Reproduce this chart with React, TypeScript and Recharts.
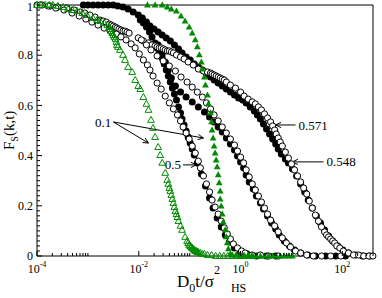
import { ScatterChart, Scatter, XAxis, YAxis, ReferenceLine } from "recharts";

const FONT = '"Liberation Serif", "Times New Roman", serif';
const GREEN = "#008b00";

// points are [log10(D0 t / sigma^2), Fs(k,t)]
const GREEN_OPEN: [number, number][] = [
  [-4.0, 1], [-3.92, 1], [-3.84, 1], [-3.76, 1], [-3.69, 1], [-3.59, 0.996], [-3.49, 0.992], [-3.39, 0.984],
  [-3.31, 0.98], [-3.21, 0.976], [-3.11, 0.968], [-3.02, 0.96], [-2.9, 0.948], [-2.82, 0.94], [-2.76, 0.936],
  [-2.68, 0.928], [-2.62, 0.92], [-2.58, 0.912], [-2.56, 0.904], [-2.54, 0.896], [-2.52, 0.888], [-2.5, 0.88],
  [-2.48, 0.873], [-2.46, 0.865], [-2.44, 0.853], [-2.43, 0.841], [-2.41, 0.833], [-2.37, 0.821], [-2.31, 0.801],
  [-2.27, 0.781], [-2.21, 0.753], [-2.13, 0.733], [-2.07, 0.701], [-2.01, 0.677], [-1.97, 0.665], [-1.91, 0.633],
  [-1.85, 0.606], [-1.81, 0.582], [-1.76, 0.542], [-1.72, 0.51], [-1.68, 0.474], [-1.62, 0.434], [-1.58, 0.402],
  [-1.54, 0.371], [-1.48, 0.331], [-1.44, 0.303], [-1.42, 0.287], [-1.4, 0.271], [-1.38, 0.259], [-1.36, 0.243],
  [-1.34, 0.227], [-1.32, 0.211], [-1.3, 0.195], [-1.28, 0.179], [-1.26, 0.167], [-1.24, 0.155], [-1.22, 0.139],
  [-1.18, 0.12], [-1.15, 0.104], [-1.09, 0.076], [-1.05, 0.06], [-1.03, 0.052], [-1.01, 0.044], [-0.99, 0.04],
  [-0.97, 0.036], [-0.95, 0.032], [-0.93, 0.028], [-0.91, 0.024], [-0.89, 0.02], [-0.87, 0.02], [-0.85, 0.016],
  [-0.83, 0.016], [-0.79, 0.012], [-0.75, 0.008], [-0.71, 0.008], [-0.65, 0.004], [-0.57, 0.004], [-0.49, 0],
  [-0.41, 0], [-0.33, 0], [-0.25, 0], [-0.17, 0], [-0.09, 0], [-0.01, 0], [0.07, 0], [0.15, 0], [0.23, 0],
];

const GREEN_FULL: [number, number][] = [
  [-1.83, 1], [-1.68, 1], [-1.54, 1], [-1.44, 0.992], [-1.36, 0.984], [-1.26, 0.976], [-1.17, 0.956], [-1.09, 0.936],
  [-1.01, 0.912], [-0.95, 0.888], [-0.89, 0.861], [-0.85, 0.833], [-0.81, 0.801], [-0.77, 0.773], [-0.75, 0.745],
  [-0.71, 0.713], [-0.69, 0.681], [-0.65, 0.641], [-0.63, 0.606], [-0.59, 0.57], [-0.57, 0.534], [-0.56, 0.502],
  [-0.54, 0.47], [-0.52, 0.438], [-0.5, 0.41], [-0.48, 0.382], [-0.46, 0.355], [-0.44, 0.323], [-0.42, 0.291],
  [-0.4, 0.259], [-0.4, 0.227], [-0.38, 0.199], [-0.36, 0.167], [-0.34, 0.135], [-0.3, 0.104], [-0.28, 0.076],
  [-0.26, 0.052], [-0.24, 0.028], [-0.2, 0.008], [-0.16, 0.004], [-0.08, 0.004], [0, 0], [0.07, 0], [0.15, 0],
  [0.23, 0], [0.31, 0], [0.39, 0], [0.47, 0], [0.55, 0], [0.63, 0], [0.7, 0], [0.78, 0], [0.86, 0], [0.94, 0], [1.02, 0],
];

const PHI_571: [number, number][] = [
  [-4.0, 1], [-3.9, 1], [-3.74, 0.996], [-3.59, 0.992], [-3.41, 0.988], [-3.27, 0.98], [-3.15, 0.972], [-3.06, 0.968],
  [-2.96, 0.96], [-2.86, 0.952], [-2.76, 0.94], [-2.7, 0.936], [-2.64, 0.932], [-2.58, 0.924], [-2.54, 0.92],
  [-2.5, 0.916], [-2.46, 0.912], [-2.43, 0.908], [-2.39, 0.904], [-2.35, 0.9], [-2.31, 0.896], [-2.27, 0.896],
  [-2.23, 0.892], [-2.19, 0.888], [-2.01, 0.869], [-1.91, 0.857], [-1.81, 0.849], [-1.74, 0.841], [-1.68, 0.837],
  [-1.64, 0.833], [-1.6, 0.829], [-1.56, 0.829], [-1.52, 0.825], [-1.48, 0.821], [-1.44, 0.817], [-1.4, 0.817],
  [-1.36, 0.813], [-1.32, 0.809], [-1.26, 0.801], [-1.18, 0.793], [-1.11, 0.785], [-1.03, 0.773], [-0.93, 0.761],
  [-0.83, 0.745], [-0.73, 0.737], [-0.65, 0.733], [-0.59, 0.729], [-0.56, 0.725], [-0.52, 0.721], [-0.48, 0.717],
  [-0.44, 0.713], [-0.4, 0.709], [-0.36, 0.705], [-0.32, 0.701], [-0.28, 0.693], [-0.2, 0.681], [-0.1, 0.669],
  [0, 0.653], [0.07, 0.637], [0.15, 0.625], [0.23, 0.614], [0.29, 0.606], [0.35, 0.594], [0.41, 0.582],
  [0.47, 0.566], [0.53, 0.55], [0.59, 0.534], [0.63, 0.518], [0.67, 0.502], [0.7, 0.486], [0.74, 0.47],
  [0.78, 0.454], [0.82, 0.438], [0.88, 0.414], [0.94, 0.39], [1.0, 0.367], [1.06, 0.343], [1.12, 0.319],
  [1.18, 0.295], [1.24, 0.271], [1.3, 0.247], [1.35, 0.219], [1.41, 0.191], [1.47, 0.163], [1.53, 0.139],
  [1.59, 0.116], [1.65, 0.096], [1.69, 0.084], [1.73, 0.076], [1.77, 0.068], [1.81, 0.06], [1.85, 0.052],
  [1.89, 0.04], [1.95, 0.032], [2.02, 0.02], [2.12, 0.012], [2.22, 0.004], [2.32, 0.004], [2.42, 0], [2.52, 0], [2.6, 0],
];

const PHI_548: [number, number][] = [
  [-3.09, 1], [-3.0, 1], [-2.9, 1], [-2.8, 1], [-2.7, 1], [-2.6, 1], [-2.5, 1], [-2.41, 0.996], [-2.31, 0.992],
  [-2.21, 0.984], [-2.11, 0.972], [-2.01, 0.96], [-1.93, 0.948], [-1.85, 0.932], [-1.78, 0.916], [-1.7, 0.904],
  [-1.62, 0.892], [-1.54, 0.88], [-1.46, 0.869], [-1.38, 0.857], [-1.3, 0.841], [-1.22, 0.825], [-1.15, 0.809],
  [-1.07, 0.793], [-0.99, 0.781], [-0.91, 0.765], [-0.83, 0.753], [-0.75, 0.741], [-0.67, 0.725], [-0.59, 0.713],
  [-0.52, 0.701], [-0.44, 0.689], [-0.36, 0.677], [-0.28, 0.665], [-0.2, 0.653], [-0.12, 0.641], [-0.04, 0.629],
  [0.04, 0.622], [0.11, 0.61], [0.19, 0.594], [0.27, 0.578], [0.33, 0.562], [0.39, 0.546], [0.45, 0.526],
  [0.51, 0.506], [0.57, 0.486], [0.63, 0.466], [0.69, 0.446], [0.74, 0.426], [0.8, 0.406], [0.88, 0.386],
  [0.94, 0.371], [1.02, 0.347], [1.1, 0.319], [1.18, 0.287], [1.26, 0.255], [1.33, 0.223], [1.41, 0.191],
  [1.49, 0.159], [1.57, 0.131], [1.65, 0.104], [1.73, 0.08], [1.81, 0.06], [1.91, 0.04], [2.01, 0.024],
  [2.12, 0.012], [2.26, 0.004], [2.4, 0], [2.54, 0],
];

const PHI_05_FULL: [number, number][] = [
  [-1.97, 0.94], [-1.91, 0.928], [-1.85, 0.912], [-1.79, 0.892], [-1.74, 0.873], [-1.68, 0.849], [-1.64, 0.829],
  [-1.6, 0.809], [-1.54, 0.789], [-1.5, 0.765], [-1.46, 0.741], [-1.42, 0.717], [-1.38, 0.693], [-1.34, 0.669],
  [-1.3, 0.645], [-1.26, 0.622], [-1.22, 0.594], [-1.18, 0.57], [-1.15, 0.546], [-1.11, 0.522], [-1.07, 0.498],
  [-1.03, 0.474], [-0.99, 0.45], [-0.95, 0.426], [-0.91, 0.402], [-0.85, 0.371], [-0.77, 0.327], [-0.69, 0.279],
  [-0.61, 0.231], [-0.54, 0.191], [-0.46, 0.151], [-0.38, 0.116], [-0.3, 0.084], [-0.22, 0.056], [-0.12, 0.032],
  [0, 0.016], [0.13, 0.008], [0.31, 0], [0.51, 0], [0.69, 0],
];

const PHI_01_OPEN: [number, number][] = [
  [-3.94, 1], [-3.78, 0.996], [-3.63, 0.988], [-3.47, 0.98], [-3.31, 0.968], [-3.17, 0.956], [-3.04, 0.944],
  [-2.92, 0.932], [-2.8, 0.92], [-2.68, 0.908], [-2.56, 0.896], [-2.44, 0.884], [-2.35, 0.873], [-2.25, 0.861],
  [-2.15, 0.845], [-2.07, 0.829], [-1.99, 0.805], [-1.91, 0.781], [-1.83, 0.761], [-1.78, 0.741], [-1.72, 0.717],
  [-1.64, 0.689], [-1.56, 0.665], [-1.48, 0.637], [-1.4, 0.61], [-1.32, 0.586], [-1.24, 0.562], [-1.18, 0.538],
  [-1.13, 0.514], [-1.07, 0.49], [-1.01, 0.466], [-0.95, 0.438], [-0.89, 0.41], [-0.83, 0.378], [-0.79, 0.351],
  [-0.73, 0.319], [-0.67, 0.287], [-0.61, 0.255], [-0.56, 0.223], [-0.5, 0.195], [-0.44, 0.167], [-0.38, 0.139],
  [-0.32, 0.112], [-0.26, 0.088], [-0.2, 0.068], [-0.14, 0.048], [-0.06, 0.032], [0.02, 0.02], [0.09, 0.012],
  [0.23, 0.004], [0.39, 0.004], [0.55, 0], [0.74, 0],
];

const MID_OPEN: [number, number][] = [
  [-1.95, 0.861], [-1.85, 0.841], [-1.76, 0.821], [-1.64, 0.797], [-1.52, 0.777], [-1.4, 0.757], [-1.28, 0.737],
  [-1.17, 0.713], [-1.05, 0.693], [-0.95, 0.673], [-0.85, 0.653], [-0.75, 0.633], [-0.67, 0.61], [-0.59, 0.586],
  [-0.52, 0.562], [-0.44, 0.538], [-0.36, 0.514], [-0.28, 0.49], [-0.2, 0.466], [-0.12, 0.442], [-0.06, 0.418],
  [0, 0.394], [0.06, 0.371], [0.11, 0.343], [0.17, 0.315], [0.23, 0.287], [0.29, 0.263], [0.35, 0.239],
  [0.41, 0.215], [0.47, 0.191], [0.53, 0.167], [0.59, 0.143], [0.67, 0.12], [0.74, 0.096], [0.82, 0.072],
  [0.9, 0.052], [0.98, 0.036], [1.08, 0.02], [1.18, 0.012], [1.3, 0.004], [1.43, 0], [1.59, 0], [1.77, 0], [1.97, 0],
];

const MID_FULL: [number, number][] = [
  [-1.62, 0.841], [-1.54, 0.805], [-1.48, 0.773], [-1.42, 0.741], [-1.36, 0.709], [-1.28, 0.677], [-1.18, 0.653],
  [-1.07, 0.633], [-0.95, 0.614], [-0.83, 0.594], [-0.71, 0.574], [-0.61, 0.554], [-0.52, 0.534], [-0.44, 0.514],
  [-0.36, 0.494], [-0.28, 0.47], [-0.2, 0.446], [-0.12, 0.422], [-0.06, 0.398], [0, 0.375], [0.06, 0.351],
  [0.11, 0.323], [0.17, 0.295], [0.25, 0.267], [0.31, 0.239], [0.39, 0.211], [0.45, 0.187], [0.53, 0.159],
  [0.61, 0.131], [0.69, 0.108], [0.76, 0.084], [0.86, 0.06], [0.96, 0.04], [1.06, 0.024], [1.18, 0.012],
  [1.32, 0.004], [1.47, 0], [1.67, 0], [1.87, 0], [2.06, 0],
];

// arrows: [log10 t, Fs] start and end, label at the start
const ARROWS: { from: [number, number]; to: [number, number]; text?: string; side?: "left" | "right" }[] = [
  { from: [-2.5, 0.534], to: [-1.81, 0.45], text: "0.1", side: "left" },
  { from: [-2.5, 0.534], to: [-0.73, 0.47] },
  { from: [-1.13, 0.363], to: [-0.87, 0.363], text: "0.5", side: "left" },
  { from: [1.08, 0.522], to: [0.69, 0.522], text: "0.571", side: "right" },
  { from: [1.63, 0.375], to: [1.02, 0.375], text: "0.548", side: "right" },
];

const X_TICKS = [
  1e-4, 2e-4, 3e-4, 4e-4, 5e-4, 6e-4, 7e-4, 8e-4, 9e-4, 1e-3,
  1e-2, 2e-2, 3e-2, 4e-2, 5e-2, 6e-2, 7e-2, 8e-2, 9e-2, 1e-1,
  1, 2, 3, 4, 5, 6, 7, 8, 9, 10,
  100, 200, 300, 400,
];
const Y_TICKS = Array.from({ length: 51 }, (_, i) => i / 50);

const pts = (s: [number, number][]) => s.map(([lt, f]) => ({ t: 10 ** lt, F: f }));

const isMajorX = (v: number) => {
  const e = Math.log10(v);
  return Math.abs(e - Math.round(e)) < 1e-6 && Math.round(e) % 2 === 0;
};
const isMajorY = (v: number) => Math.abs(v * 5 - Math.round(v * 5)) < 1e-6;

function XTick(props: any) {
  const { x, y, payload, top } = props;
  const v = payload.value;
  const major = isMajorX(v);
  const len = major ? 5 : 3;
  const dir = top ? 1 : -1;
  return (
    <g>
      <line x1={x} x2={x} y1={y} y2={y + dir * len} stroke="#000" strokeWidth={1} />
      {!top && major && (
        <text x={x} y={y + 17} textAnchor="middle" fontFamily={FONT} fontSize={12} fill="#000">
          10<tspan fontSize={8} dy={-6}>{String(Math.round(Math.log10(v)))}</tspan>
        </text>
      )}
    </g>
  );
}

function YTick(props: any) {
  const { x, y, payload, right } = props;
  const v = payload.value;
  const major = isMajorY(v);
  const len = major ? 5 : 3;
  const dir = right ? -1 : 1;
  return (
    <g>
      <line x1={x} x2={x + dir * len} y1={y} y2={y} stroke="#000" strokeWidth={1} />
      {!right && major && (
        <text
          x={x - 4}
          y={v === 1 ? y + 1.5 : y}
          dy="0.35em"
          textAnchor="end"
          fontFamily={FONT}
          fontSize={12}
          fill="#000"
        >
          {String(Number(v.toFixed(1)))}
        </text>
      )}
    </g>
  );
}

function Arrow(props: any) {
  const { x1, y1, x2, y2, text, side } = props;
  const ang = Math.atan2(y2 - y1, x2 - x1);
  const h = 6;
  const w = 0.45;
  const ax = x2 - h * Math.cos(ang - w);
  const ay = y2 - h * Math.sin(ang - w);
  const bx = x2 - h * Math.cos(ang + w);
  const by = y2 - h * Math.sin(ang + w);
  return (
    <g>
      <line x1={x1} y1={y1} x2={x2} y2={y2} stroke="#000" strokeWidth={1} />
      <polyline points={`${ax},${ay} ${x2},${y2} ${bx},${by}`} fill="none" stroke="#000" strokeWidth={1} />
      {text && (
        <text
          x={side === "left" ? x1 - 2 : x1 + 3}
          y={y1}
          dy="0.35em"
          textAnchor={side === "left" ? "end" : "start"}
          fontFamily={FONT}
          fontSize={13}
          fill="#000"
        >
          {text}
        </text>
      )}
    </g>
  );
}

const OpenCircle = (p: any) => <circle cx={p.cx} cy={p.cy} r={3.1} fill="#fff" stroke="#000" strokeWidth={1} />;
const FullCircle = (p: any) => <circle cx={p.cx} cy={p.cy} r={3.5} fill="#000" />;
const triPts = (cx: number, cy: number) => `${cx},${cy - 3.6} ${cx + 3.4},${cy + 2.4} ${cx - 3.4},${cy + 2.4}`;
const OpenTri = (p: any) => <polygon points={triPts(p.cx, p.cy)} fill="none" stroke={GREEN} strokeWidth={1} />;
const FullTri = (p: any) => <polygon points={triPts(p.cx, p.cy)} fill={GREEN} />;

const X_DOMAIN = [1e-4, 400];

export default function App() {
  return (
    <div style={{ position: "absolute", left: 0, top: 0, width: 382, height: 298, background: "#fff" }}>
      <ScatterChart width={382} height={298} margin={{ top: 4, right: 8, bottom: 41, left: 36 }}>
        <XAxis
          type="number"
          dataKey="t"
          scale="log"
          domain={X_DOMAIN}
          ticks={X_TICKS}
          interval={0}
          height={1}
          tickLine={false}
          tickSize={0}
          tickMargin={0}
          axisLine={{ stroke: "#000" }}
          tick={(p: any) => <XTick {...p} />}
        />
        <XAxis
          xAxisId="top"
          orientation="top"
          type="number"
          scale="log"
          domain={X_DOMAIN}
          ticks={X_TICKS}
          interval={0}
          height={1}
          tickLine={false}
          tickSize={0}
          tickMargin={0}
          axisLine={{ stroke: "#000" }}
          tick={(p: any) => <XTick {...p} top />}
        />
        <YAxis
          type="number"
          dataKey="F"
          domain={[0, 1]}
          ticks={Y_TICKS}
          interval={0}
          width={1}
          tickLine={false}
          tickSize={0}
          tickMargin={0}
          axisLine={{ stroke: "#000" }}
          tick={(p: any) => <YTick {...p} />}
        />
        <YAxis
          yAxisId="right"
          orientation="right"
          type="number"
          domain={[0, 1]}
          ticks={Y_TICKS}
          interval={0}
          width={1}
          tickLine={false}
          tickSize={0}
          tickMargin={0}
          axisLine={{ stroke: "#000" }}
          tick={(p: any) => <YTick {...p} right />}
        />
        <Scatter data={pts(PHI_548)} shape={FullCircle} isAnimationActive={false} />
        <Scatter data={pts(PHI_05_FULL)} shape={FullCircle} isAnimationActive={false} />
        <Scatter data={pts(MID_FULL)} shape={FullCircle} isAnimationActive={false} />
        <Scatter data={pts(PHI_571)} shape={OpenCircle} isAnimationActive={false} />
        <Scatter data={pts(PHI_01_OPEN)} shape={OpenCircle} isAnimationActive={false} />
        <Scatter data={pts(MID_OPEN)} shape={OpenCircle} isAnimationActive={false} />
        <Scatter data={pts(GREEN_OPEN)} shape={OpenTri} isAnimationActive={false} />
        <Scatter data={pts(GREEN_FULL)} shape={FullTri} isAnimationActive={false} />
        {ARROWS.map((a, i) => (
          <ReferenceLine
            key={i}
            segment={[
              { x: 10 ** a.from[0], y: a.from[1] },
              { x: 10 ** a.to[0], y: a.to[1] },
            ]}
            shape={(p: any) => <Arrow {...p} text={a.text} side={a.side} />}
          />
        ))}
      </ScatterChart>
      <svg width={382} height={298} style={{ position: "absolute", left: 0, top: 0, pointerEvents: "none" }}>
        <text x={177} y={287} fontFamily={FONT} fontSize={17} fill="#000">
          D<tspan fontSize={12} dy={5}>0</tspan>
          <tspan dy={-5}>t/σ</tspan>
          <tspan fontSize={12} dy={-13}>2</tspan>
          <tspan fontSize={12} dx={11} dy={18}>HS</tspan>
        </text>
        <text x={14} y={150} transform="rotate(-90 14 150)" fontFamily={FONT} fontSize={15} fill="#000">
          F<tspan fontSize={10} dy={4}>S</tspan>
          <tspan dy={-4}>(k,t)</tspan>
        </text>
      </svg>
    </div>
  );
}
